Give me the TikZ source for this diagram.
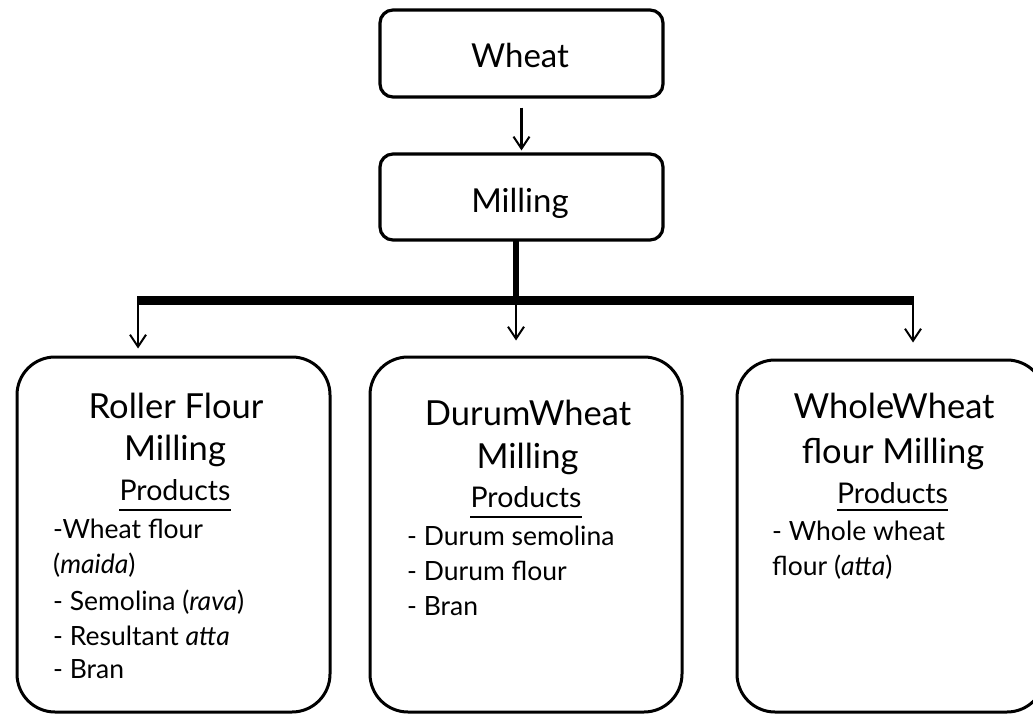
\documentclass[tikz,border=0pt]{standalone}
\usepackage{fontspec}
\setmainfont{Lato}
\usetikzlibrary{arrows.meta}
\begin{document}
\begin{tikzpicture}[x=1pt,y=-1pt,
  topbox/.style={draw,line width=3.2pt,rounded corners=13pt,inner sep=0pt},
  bigbox/.style={draw,line width=3pt,rounded corners=38pt,inner sep=0pt},
  ttl/.style={anchor=base,inner sep=0pt,font=\fontsize{34.5}{34.5}\selectfont},
  prod/.style={anchor=base,inner sep=0pt,font=\fontsize{28.5}{28.5}\selectfont},
  item/.style={anchor=base west,inner sep=0pt,font=\fontsize{26.5}{26.5}\selectfont},
  toptxt/.style={anchor=base,inner sep=0pt,font=\fontsize{33}{33}\selectfont},
  arr/.style={line width=2.2pt,-{Straight Barb[length=12pt,width=16pt,line width=2pt]}},
  thick bar/.style={line width=9pt},
  ul/.style={line width=1.6pt}]
\useasboundingbox[fill=white] (0,0) rectangle (1033,714);

% top boxes
\node[topbox,minimum width=283pt,minimum height=87pt] (wheat) at (521.5,53.5) {};
\node[topbox,minimum width=283pt,minimum height=86pt] (mill) at (521.5,197) {};
\node[toptxt] (wheatT) at (520,68) {Wheat};
\node[toptxt] (millT) at (520,212) {Milling};

% big boxes
\node[bigbox,minimum width=313pt,minimum height=355pt] (lbox) at (173.5,534.5) {};
\node[bigbox,minimum width=312pt,minimum height=355pt] (mbox) at (526,534.5) {};
\node[bigbox,minimum width=308pt,minimum height=352pt] (rbox) at (891,536) {};

% connectors
\coordinate (mbot) at (516,240);
\coordinate (jn) at (516,300.5);
\coordinate (bl) at (138,300.5);
\coordinate (bm) at (516,300.5);
\coordinate (br) at (913,300.5);
\draw[arr] ([yshift=-9pt]wheat.south) -- ([yshift=2pt]mill.north);
\draw[line width=6pt] (mbot) -- (jn);
\draw[thick bar] ([xshift=-1pt]bl) -- ([xshift=1pt]br);
\draw[arr] (bl) -- ([yshift=7pt]bl |- lbox.north);
\draw[arr] (bm) -- ([yshift=15pt]bm |- mbox.north);
\draw[arr] (br) -- ([yshift=16pt]br |- rbox.north);

% left box text
\node[ttl] (l1) at (176,418) {Roller Flour};
\node[ttl] (l2) at (175,460) {Milling};
\node[prod] (lp) at (175,500) {Products};
\draw[ul] ([yshift=-10pt]lp.base west) -- ([yshift=-10pt]lp.base east);
\node[item] (li1) at (53,538) {-Wheat flour};
\node[item] (li2) at (53,573) {(\textit{maida})};
\node[item] (li3) at (53,610) {- Semolina (\textit{rava})};
\node[item] (li4) at (53,645) {- Resultant \textit{atta}};
\node[item] (li5) at (53,678) {- Bran};

% middle box text
\node[ttl] (m1) at (528,425) {DurumWheat};
\node[ttl] (m2) at (527.5,468) {Milling};
\node[prod] (mp) at (526,507) {Products};
\draw[ul] ([yshift=-10pt]mp.base west) -- ([yshift=-10pt]mp.base east);
\node[item] (mi1) at (407,545) {- Durum semolina};
\node[item] (mi2) at (407,580) {- Durum flour};
\node[item] (mi3) at (407,615) {- Bran};

% right box text
\node[ttl] (r1) at (894,418) {WholeWheat};
\node[ttl] (r2) at (893,463) {flour Milling};
\node[prod] (rp) at (892.5,503) {Products};
\draw[ul] ([yshift=-7pt]rp.base west) -- ([yshift=-7pt]rp.base east);
\node[item] (ri1) at (772,540) {- Whole wheat};
\node[item] (ri2) at (772,575) {flour (\textit{atta})};
\end{tikzpicture}
\end{document}
